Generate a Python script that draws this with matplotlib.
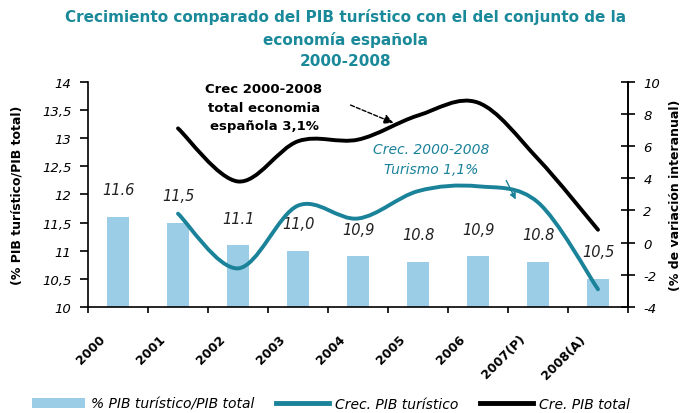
import matplotlib
matplotlib.use("Agg")
import matplotlib.pyplot as plt
from matplotlib.path import Path
from matplotlib.patches import PathPatch, Patch
from matplotlib.lines import Line2D
import matplotlib.transforms as mtransforms

years = ["2000", "2001", "2002", "2003", "2004", "2005", "2006", "2007(P)", "2008(A)"]
share = [11.6, 11.5, 11.1, 11.0, 10.9, 10.8, 10.9, 10.8, 10.5]
share_labels = ["11.6", "11,5", "11.1", "11,0", "10,9", "10.8", "10,9", "10.8", "10,5"]
line_years_idx = [1, 2, 3, 4, 5, 6, 7, 8]
crec_turistico = [1.8, -1.6, 2.3, 1.5, 3.2, 3.5, 2.5, -2.9]
crec_total = [7.1, 3.8, 6.3, 6.4, 7.9, 8.7, 5.2, 0.8]
left_ticks = [10, 10.5, 11, 11.5, 12, 12.5, 13, 13.5, 14]
left_tick_labels = ["10", "10,5", "11", "11,5", "12", "12,5", "13", "13,5", "14"]
right_ticks = [-4, -2, 0, 2, 4, 6, 8, 10]

TEAL = "#1a8299"
BAR = "#9ccde6"
TITLE = "#1a8a9a"

plt.rcParams['font.family'] = ['DejaVu Sans']

fig = plt.figure(figsize=(6.91, 4.14), dpi=100)
ax = fig.add_axes([88/691, 1-308/414, (628-88)/691, (308-82.7)/414])
ax2 = ax.twinx()

x = list(range(len(years)))
ax.bar(x, share, width=0.37, color=BAR, zorder=1)
for xi, v, lab in zip(x, share, share_labels):
    ax.annotate(lab, (xi, v), xytext=(0, 14), textcoords="offset points",
                ha="center", va="bottom", fontsize=10.5, style="italic", color="#222222")

ax.set_xlim(-0.5, len(years) - 0.5)
ax.set_ylim(10, 14)
ax.set_yticks(left_ticks)
ax.set_yticklabels(left_tick_labels, style="italic", fontsize=9.5)
ax.tick_params(axis="y", direction="out", length=6, width=1.2, pad=6)

ax.set_xticks(x)
ax.set_xticklabels(years, rotation=45, ha="right", va="top", fontsize=9, fontweight="bold")
ax.set_xticks([i - 0.5 for i in range(len(years) + 1)], minor=True)
ax.tick_params(axis="x", which="major", length=0, pad=18)
ax.tick_params(axis="x", which="minor", direction="out", length=4, width=1.2)
offset = mtransforms.ScaledTranslation(-10/100, 0, fig.dpi_scale_trans)
for lab in ax.get_xticklabels():
    lab.set_transform(lab.get_transform() + offset)

ax2.set_ylim(-4, 10)
ax2.set_yticks(right_ticks)
ax2.set_yticklabels([str(t) for t in right_ticks], style="italic", fontsize=9.5)
ax2.tick_params(axis="y", direction="inout", length=10, width=1.2, pad=6)

for a in (ax, ax2):
    a.spines["top"].set_visible(False)
    for s in ("left", "right", "bottom"):
        a.spines[s].set_linewidth(1.2)
ax2.spines["left"].set_visible(False)
ax2.spines["bottom"].set_visible(False)


def smooth_path(xs, ys):
    verts = [(xs[0], ys[0])]
    codes = [Path.MOVETO]
    n = len(xs)
    for i in range(n - 1):
        x0, y0 = (xs[i - 1], ys[i - 1]) if i > 0 else (xs[i], ys[i])
        x1, y1 = xs[i], ys[i]
        x2, y2 = xs[i + 1], ys[i + 1]
        x3, y3 = (xs[i + 2], ys[i + 2]) if i + 2 < n else (xs[i + 1], ys[i + 1])
        c1 = (x1 + (x2 - x0) / 6, y1 + (y2 - y0) / 6)
        c2 = (x2 - (x3 - x1) / 6, y2 - (y3 - y1) / 6)
        verts += [c1, c2, (x2, y2)]
        codes += [Path.CURVE4] * 3
    return Path(verts, codes)


ax2.add_patch(PathPatch(smooth_path(line_years_idx, crec_total), facecolor="none",
                        edgecolor="black", lw=2.8, zorder=3, capstyle="round"))
ax2.add_patch(PathPatch(smooth_path(line_years_idx, crec_turistico), facecolor="none",
                        edgecolor=TEAL, lw=2.8, zorder=3, capstyle="round"))

# annotations
fig.text(264/691, 1-108/414, "Crec 2000-2008\ntotal economia\nespañola 3,1%", ha="center",
         va="center", fontsize=9.5, fontweight="bold", linespacing=1.55)
ax2.annotate("", xy=(396, 414-125), xycoords="figure pixels", xytext=(348, 414-105),
             textcoords="figure pixels",
             arrowprops=dict(arrowstyle="-|>", color="black", lw=1, ls=(0, (3, 1.5)),
                             mutation_scale=14))
fig.text(431/691, 1-160/414, "Crec. 2000-2008\nTurismo 1,1%", ha="center", va="center",
         fontsize=10, style="italic", color=TEAL, linespacing=1.5)
ax2.annotate("", xy=(517, 414-203), xycoords="figure pixels", xytext=(505, 414-179),
             textcoords="figure pixels",
             arrowprops=dict(arrowstyle="-|>", color=TEAL, lw=1, mutation_scale=9))

fig.text(0.5, 1-39/414,
         "Crecimiento comparado del PIB turístico con el del conjunto de la\neconomía española\n2000-2008",
         ha="center", va="center", fontsize=11, fontweight="bold", color=TITLE, linespacing=1.55)

fig.text(17/691, 1-195/414, "(% PIB turístico/PIB total)", rotation=90, ha="center", va="center",
         fontsize=9, fontweight="bold")
fig.text(676/691, 1-195/414, "(% de variación interanual)", rotation=90, ha="center", va="center",
         fontsize=9, fontweight="bold")

handles = [Patch(facecolor=BAR, edgecolor="none"),
           Line2D([0], [0], color=TEAL, lw=3.5),
           Line2D([0], [0], color="black", lw=3.5)]
labels = ["% PIB turístico/PIB total", "Crec. PIB turístico", "Cre. PIB total"]
fig.legend(handles, labels, loc="center", bbox_to_anchor=(331/691, 1-405/414), ncol=3,
           frameon=False, prop={"style": "italic", "size": 10}, handlelength=3.8,
           handletextpad=0.4, columnspacing=1.6)

fig.savefig("out.png", dpi=100)
